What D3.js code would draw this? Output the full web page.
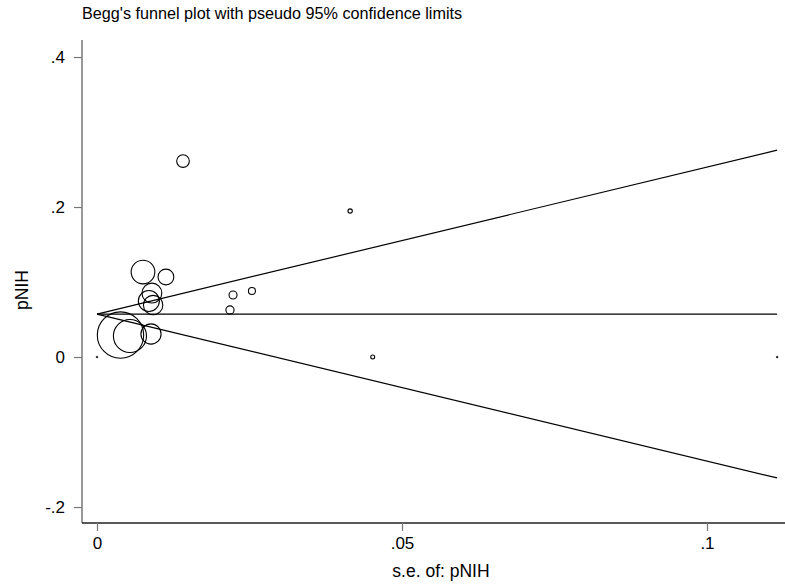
<!DOCTYPE html>
<html>
<head>
<meta charset="utf-8">
<script src="https://cdn.jsdelivr.net/npm/d3@7"></script>
<style>
  body { margin: 0; background: #fff; }
  svg { display: block; font-family: "Liberation Sans", Arial, Helvetica, sans-serif; }
</style>
</head>
<body>
<svg id="chart" width="785" height="585"></svg>
<script>
// ---- data ----
const studySE    = [0.00385, 0.0054, 0.00885, 0.00754, 0.0113, 0.0090, 0.0085, 0.0092, 0.0141, 0.0223, 0.0218, 0.0254, 0.0415, 0.0452, 0.1115, 0.0];
const studyValue = [0.0293, 0.028, 0.0307, 0.1133, 0.1067, 0.0853, 0.0747, 0.0693, 0.2613, 0.0827, 0.0627, 0.088, 0.1947, 0.0, 0.0, 0.0];
const pooledTheta = 0.0573;
const maxSE = 0.1115;
const xTicks = [0, 0.05, 0.1];
const xTickLabels = ["0", ".05", ".1"];
const yTicks = [-0.2, 0, 0.2, 0.4];
const yTickLabels = ["-.2", "0", ".2", ".4"];
const titleText = "Begg's funnel plot with pseudo 95% confidence limits";
const xTitle = "s.e. of: pNIH";
const yTitle = "pNIH";

// ---- layout ----
const svg = d3.select("#chart");
const mLeft = 82, mRight = 785, mTop = 40, mBottom = 523;

const x = d3.scaleLinear().domain([-0.00246, 0.11279]).range([mLeft, mRight]);
const y = d3.scaleLinear().domain([-0.2213, 0.4227]).range([mBottom, mTop]);

// weights 1/se^2, marker area proportional to weight
const weights = studySE.map(s => s > 0 ? 1 / (s * s) : 0);
const r = d3.scaleSqrt().domain([0, 1 / (0.00385 * 0.00385)]).range([0, 23.2]);

// title
svg.append("text")
  .attr("x", mLeft).attr("y", 19)
  .attr("font-size", 16.2).attr("fill", "#000")
  .text(titleText);

// y axis
const yAxis = d3.axisLeft(y).tickValues(yTicks)
  .tickFormat((d, i) => yTickLabels[i]).tickSize(8).tickSizeOuter(0).tickPadding(9);
const gy = svg.append("g").attr("transform", `translate(${mLeft},0)`).call(yAxis);
gy.select(".domain").attr("stroke", "#777").attr("stroke-width", 1.5)
  .attr("d", `M0,${mTop}V${mBottom}`);
gy.selectAll(".tick line").attr("stroke", "#777").attr("stroke-width", 1.2);
gy.selectAll(".tick text").attr("font-size", 17).attr("fill", "#000")
  .attr("font-family", "Liberation Sans, Arial, sans-serif");

// x axis
const xAxis = d3.axisBottom(x).tickValues(xTicks)
  .tickFormat((d, i) => xTickLabels[i]).tickSize(8).tickSizeOuter(0).tickPadding(6);
const gx = svg.append("g").attr("transform", `translate(0,${mBottom})`).call(xAxis);
gx.select(".domain").attr("stroke", "#222").attr("stroke-width", 1.5)
  .attr("d", `M${mLeft},0H${mRight}`);
gx.selectAll(".tick line").attr("stroke", "#777").attr("stroke-width", 1.2);
gx.selectAll(".tick text").attr("font-size", 17).attr("fill", "#000")
  .attr("font-family", "Liberation Sans, Arial, sans-serif");

// axis titles
svg.append("text")
  .attr("x", 441).attr("y", 577)
  .attr("text-anchor", "middle").attr("font-size", 17.5).attr("fill", "#000")
  .text(xTitle);
svg.append("text")
  .attr("transform", `translate(28,290) rotate(-90)`)
  .attr("text-anchor", "middle").attr("font-size", 17.5).attr("fill", "#000")
  .text(yTitle);

// funnel lines
const lineGen = d3.line().x(d => x(d[0])).y(d => y(d[1]));
const upper = [[0, pooledTheta], [maxSE, pooledTheta + 1.96 * maxSE]];
const lower = [[0, pooledTheta], [maxSE, pooledTheta - 1.96 * maxSE]];
const center = [[0, pooledTheta], [maxSE, pooledTheta]];
[upper, lower, center].forEach(l => {
  svg.append("path").attr("d", lineGen(l))
    .attr("fill", "none").attr("stroke", "#000").attr("stroke-width", 1.2);
});

// study markers
svg.append("g").selectAll("circle")
  .data(studySE.map((s, i) => ({ se: s, v: studyValue[i], w: weights[i] })))
  .join("circle")
  .attr("cx", d => x(d.se))
  .attr("cy", d => y(d.v))
  .attr("r", d => Math.max(r(d.w), 0.9))
  .attr("fill", d => r(d.w) < 1.2 ? "#000" : "none")
  .attr("stroke", "#000")
  .attr("stroke-width", d => r(d.w) < 1.2 ? 0.5 : 1.1);
</script>
</body>
</html>
